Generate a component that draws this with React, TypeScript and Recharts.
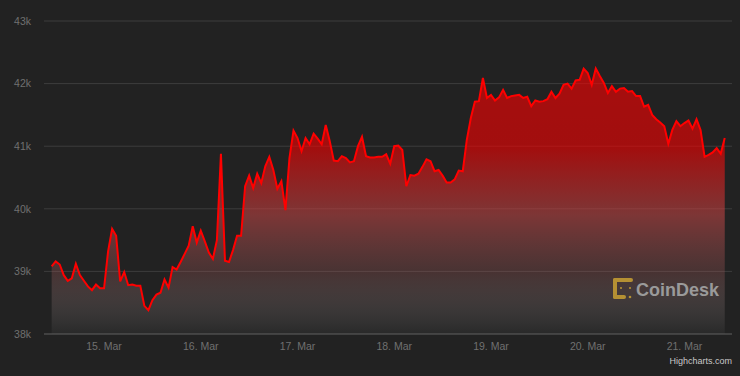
import { AreaChart, Area, XAxis, YAxis, CartesianGrid } from "recharts";

// BTC/USD hourly, 14 Mar 11:00 -> 21 Mar 10:00 (hours counted from 14 Mar 00:00)
const START_HOUR = 11;

const prices = [
  39080, 39160, 39110, 38940, 38850, 38890, 39120, 38940, 38850, 38760,
  38700, 38790, 38730, 38730, 39320, 39680, 39570, 38840, 38990, 38780,
  38790, 38770, 38770, 38450, 38380, 38540, 38630, 38660, 38870, 38740,
  39070, 39030, 39150, 39280, 39410, 39720, 39460, 39650, 39480, 39300,
  39200, 39500, 40880, 39170, 39150, 39340, 39570, 39570, 40360, 40530,
  40330, 40560, 40410, 40680, 40830, 40620, 40320, 40440, 39980, 40810,
  41250, 41130, 40920, 41130, 41030, 41200, 41120, 41030, 41340, 41080,
  40770, 40760, 40840, 40810, 40740, 40760, 41000, 41150, 40840, 40820,
  40820, 40830, 40830, 40870, 40720, 41000, 41010, 40940, 40360, 40540,
  40530, 40560, 40670, 40790, 40760, 40600, 40620, 40530, 40420, 40420,
  40470, 40610, 40600, 41100, 41450, 41710, 41720, 42090, 41770, 41820,
  41730, 41780, 41900, 41770, 41800, 41810, 41820, 41770, 41790, 41640,
  41730, 41710, 41720, 41750, 41870, 41770, 41840, 41980, 42000, 41920,
  42050, 42060, 42240, 42170, 41980, 42240, 42120, 42010, 41850, 41960,
  41870, 41920, 41930, 41870, 41880, 41800, 41800, 41630, 41660, 41500,
  41430, 41380, 41320, 41040, 41260, 41400, 41320, 41370, 41410, 41280,
  41430, 41260, 40830, 40860, 40900, 40970, 40880, 41130,
];

const dayTicks = [24, 48, 72, 96, 120, 144, 168];
const dayLabels = ["15. Mar", "16. Mar", "17. Mar", "18. Mar", "19. Mar", "20. Mar", "21. Mar"];
const priceTicks = [38000, 39000, 40000, 41000, 42000, 43000];

const data = prices.map((price, i) => ({ hour: START_HOUR + i, price }));

const FONT = '"Liberation Sans", Arial, Helvetica, sans-serif';
const LABEL = "#707070";

const Watermark = () => (
  <svg
    width={740}
    height={376}
    style={{ position: "absolute", left: 0, top: 0, pointerEvents: "none" }}
  >
    <g fill="#c9a033" opacity={0.85}>
      <rect x={613} y={278} width={4} height={21} rx={2} />
      <rect x={613} y={278} width={20} height={4} rx={2} />
      <rect x={613} y={295} width={13} height={4} rx={2} />
      <circle cx={621} cy={288} r={1.1} />
      <circle cx={630} cy={288} r={1.1} />
      <circle cx={630} cy={297} r={1.3} />
    </g>
    <text
      x={636}
      y={296}
      fontFamily={FONT}
      fontWeight="bold"
      fontSize={19}
      textLength={83}
      lengthAdjust="spacingAndGlyphs"
      fill="#9a9a9a"
    >
      CoinDesk
    </text>
    <text x={732} y={364} textAnchor="end" fontFamily={FONT} fontSize={9} fill="#c8c8c8">
      Highcharts.com
    </text>
  </svg>
);

export default function App() {
  return (
    <div
      style={{
        position: "absolute",
        left: 0,
        top: 0,
        width: 740,
        height: 376,
        background: "#222222",
      }}
    >
      <AreaChart
        width={740}
        height={376}
        data={data}
        margin={{ top: 21, right: 8, left: 0, bottom: 12 }}
      >
        <defs>
          <linearGradient id="btcFill" x1="0" y1="0" x2="0" y2="1">
            <stop offset="0%" stopColor="#ff0000" stopOpacity={0.6} />
            <stop offset="30%" stopColor="#ff0000" stopOpacity={0.58} />
            <stop offset="55%" stopColor="#c84646" stopOpacity={0.55} />
            <stop offset="77%" stopColor="#a05a5a" stopOpacity={0.3} />
            <stop offset="100%" stopColor="#ffffff" stopOpacity={0.03} />
          </linearGradient>
        </defs>
        <CartesianGrid vertical={false} stroke="rgba(255,255,255,0.12)" />
        <XAxis
          dataKey="hour"
          type="number"
          domain={[9.1, 179.8]}
          ticks={dayTicks}
          tickFormatter={(h: number) => dayLabels[dayTicks.indexOf(h)]}
          height={30}
          stroke="#555555"
          tickLine={false}
          tickMargin={3}
          tick={{ fill: LABEL, fontSize: 10.5, fontFamily: FONT }}
        />
        <YAxis
          type="number"
          domain={[38000, 43000]}
          ticks={priceTicks}
          tickFormatter={(v: number) => `${v / 1000}k`}
          width={44}
          axisLine={false}
          tickLine={false}
          tickMargin={7}
          tick={{ fill: LABEL, fontSize: 10.5, fontFamily: FONT }}
        />
        <Area
          type="linear"
          dataKey="price"
          stroke="#ff0000"
          strokeWidth={2}
          fill="url(#btcFill)"
          fillOpacity={1}
          dot={false}
          activeDot={false}
          isAnimationActive={false}
        />
      </AreaChart>
      <Watermark />
    </div>
  );
}
